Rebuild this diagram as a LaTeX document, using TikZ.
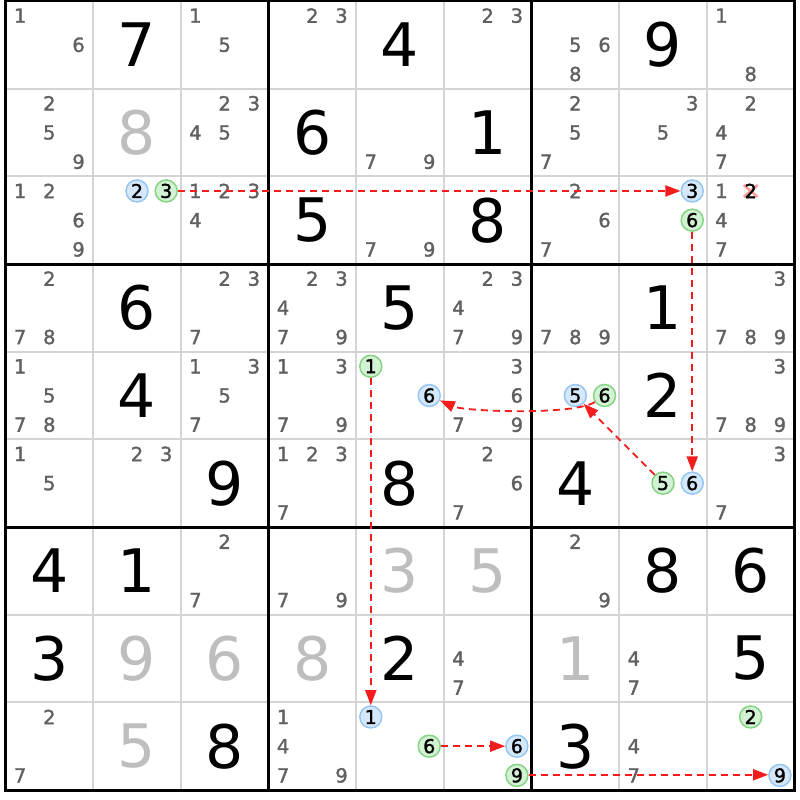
\documentclass[tikz,border=0pt]{standalone}
\usepackage{fontspec}
\setmainfont{DejaVu Sans}
\newfontfamily\candfont[FakeBold=1.5]{DejaVu Sans}
\usetikzlibrary{arrows.meta}
\definecolor{candgray}{HTML}{606060}
\definecolor{solvedgray}{HTML}{BEBEBE}
\definecolor{thingrid}{HTML}{D4D4D4}
\definecolor{bluefill}{HTML}{D5E8FA}
\definecolor{blueline}{HTML}{95C6F4}
\definecolor{greenfill}{HTML}{D3F2D3}
\definecolor{greenline}{HTML}{84D484}
\definecolor{linkred}{HTML}{F41C1C}
\definecolor{xpink}{HTML}{FF9A9A}
\newcommand\CS{87.667}
\newcommand\cellcands[3]{%
  \foreach \d in {#3}{%
    \pgfmathsetmacro\px{5.5+(#2-1)*\CS+(2*mod(\d-1,3)+1)*\CS/6}%
    \pgfmathsetmacro\py{1+(#1-1)*\CS+(2*floor((\d-1)/3)+1)*\CS/6}%
    \node[cand] (k#1#2\d) at (\px,\py) {\d};
  }}
\newcommand\given[3]{%
  \node[given] (g#1#2) at ({5.5+(#2-0.5)*\CS},{1+(#1-0.5)*\CS}) {#3};}
\newcommand\solved[3]{%
  \node[solved] (s#1#2) at ({5.5+(#2-0.5)*\CS},{1+(#1-0.5)*\CS}) {#3};}
\newcommand\hl[5]{%
  \pgfmathsetmacro\px{5.5+(#4-1)*\CS+(2*mod(#5-1,3)+1)*\CS/6}%
  \pgfmathsetmacro\py{1+(#3-1)*\CS+(2*floor((#5-1)/3)+1)*\CS/6}%
  \node[#1] (#2) at (\px,\py) {#5};}
\begin{document}
\begin{tikzpicture}[x=1pt,y=-1pt,
  cand/.style={inner sep=0pt, text=candgray, font=\candfont\fontsize{19.5}{19.5}\selectfont},
  given/.style={inner sep=0pt, text=black, font=\fontsize{60}{60}\selectfont},
  solved/.style={given, text=solvedgray},
  bluec/.style={circle, draw=blueline, fill=bluefill, line width=1.5pt, minimum size=22pt, inner sep=0pt, text=black, font=\candfont\fontsize{19}{19}\selectfont},
  greenc/.style={bluec, draw=greenline, fill=greenfill},
  thingrid/.style={draw=thingrid, line width=2pt},
  thickgrid/.style={draw=black, line width=3pt},
  link/.style={draw=linkred, line width=1.8pt, dash pattern=on 7pt off 5pt, -{Triangle[length=15pt,width=11pt]}},
  xmark/.style={draw=xpink, line width=2.5pt}]
\useasboundingbox (0,0) rectangle (800,800);
\fill[white] (0,0) rectangle (800,800);
% grid
\foreach \i in {1,2,4,5,7,8}{
  \draw[thingrid] ({5.5+\i*\CS},1) -- ({5.5+\i*\CS},790);
  \draw[thingrid] (5.5,{1+\i*\CS}) -- (794.5,{1+\i*\CS});
}
\foreach \i in {3,6}{
  \draw[thickgrid] ({5.5+\i*\CS},1) -- ({5.5+\i*\CS},790);
  \draw[thickgrid] (5.5,{1+\i*\CS}) -- (794.5,{1+\i*\CS});
}
\draw[thickgrid] (5.5,1) rectangle (794.5,790);
% row 1
\cellcands{1}{1}{1,6} \given{1}{2}{7} \cellcands{1}{3}{1,5}
\cellcands{1}{4}{2,3} \given{1}{5}{4} \cellcands{1}{6}{2,3}
\cellcands{1}{7}{5,6,8} \given{1}{8}{9} \cellcands{1}{9}{1,8}
% row 2
\cellcands{2}{1}{2,5,9} \solved{2}{2}{8} \cellcands{2}{3}{2,3,4,5}
\given{2}{4}{6} \cellcands{2}{5}{7,9} \given{2}{6}{1}
\cellcands{2}{7}{2,5,7} \cellcands{2}{8}{3,5} \cellcands{2}{9}{2,4,7}
% row 3
\cellcands{3}{1}{1,2,6,9}
\hl{bluec}{A2b}{3}{2}{2} \hl{greenc}{A3g}{3}{2}{3}
\cellcands{3}{3}{1,2,3,4}
\given{3}{4}{5} \cellcands{3}{5}{7,9} \given{3}{6}{8}
\cellcands{3}{7}{2,6,7}
\hl{bluec}{B3b}{3}{8}{3} \hl{greenc}{B6g}{3}{8}{6}
\cellcands{3}{9}{1,4,7}
\coordinate (xr) at (750.7,191);
\draw[xmark] (xr) +(-7,-6) -- +(7,6) +(-7,6) -- +(7,-6);
\node[cand, text=black] (elim2) at (xr) {2};
% row 4
\cellcands{4}{1}{2,7,8} \given{4}{2}{6} \cellcands{4}{3}{2,3,7}
\cellcands{4}{4}{2,3,4,7,9} \given{4}{5}{5} \cellcands{4}{6}{2,3,4,7,9}
\cellcands{4}{7}{7,8,9} \given{4}{8}{1} \cellcands{4}{9}{3,7,8,9}
% row 5
\cellcands{5}{1}{1,5,7,8} \given{5}{2}{4} \cellcands{5}{3}{1,3,5,7}
\cellcands{5}{4}{1,3,7,9}
\hl{greenc}{E1g}{5}{5}{1} \hl{bluec}{E6b}{5}{5}{6}
\cellcands{5}{6}{3,6,7,9}
\hl{bluec}{D5b}{5}{7}{5} \hl{greenc}{D6g}{5}{7}{6}
\given{5}{8}{2} \cellcands{5}{9}{3,7,8,9}
% row 6
\cellcands{6}{1}{1,5} \cellcands{6}{2}{2,3} \given{6}{3}{9}
\cellcands{6}{4}{1,2,3,7} \given{6}{5}{8} \cellcands{6}{6}{2,6,7}
\given{6}{7}{4}
\hl{greenc}{C5g}{6}{8}{5} \hl{bluec}{C6b}{6}{8}{6}
\cellcands{6}{9}{3,7}
% row 7
\given{7}{1}{4} \given{7}{2}{1} \cellcands{7}{3}{2,7}
\cellcands{7}{4}{7,9} \solved{7}{5}{3} \solved{7}{6}{5}
\cellcands{7}{7}{2,9} \given{7}{8}{8} \given{7}{9}{6}
% row 8
\given{8}{1}{3} \solved{8}{2}{9} \solved{8}{3}{6}
\solved{8}{4}{8} \given{8}{5}{2} \cellcands{8}{6}{4,7}
\solved{8}{7}{1} \cellcands{8}{8}{4,7} \given{8}{9}{5}
% row 9
\cellcands{9}{1}{2,7} \solved{9}{2}{5} \given{9}{3}{8}
\cellcands{9}{4}{1,4,7,9}
\hl{bluec}{F1b}{9}{5}{1} \hl{greenc}{F6g}{9}{5}{6}
\hl{bluec}{G6b}{9}{6}{6} \hl{greenc}{G9g}{9}{6}{9}
\given{9}{7}{3} \cellcands{9}{8}{4,7}
\hl{greenc}{H2g}{9}{9}{2} \hl{bluec}{H9b}{9}{9}{9}
% links
\draw[link] (A3g) -- (B3b);
\draw[link] (B6g) -- (C6b);
\draw[link] (C5g) -- (D5b);
\draw[link] (D6g) .. controls +(-30,20) and +(35,16) .. (E6b);
\draw[link] (E1g) -- (F1b);
\draw[link] (F6g) -- (G6b);
\draw[link] ([yshift=0.6pt]G9g.east) -- ([yshift=0.6pt]H9b.west);
\end{tikzpicture}
\end{document}
